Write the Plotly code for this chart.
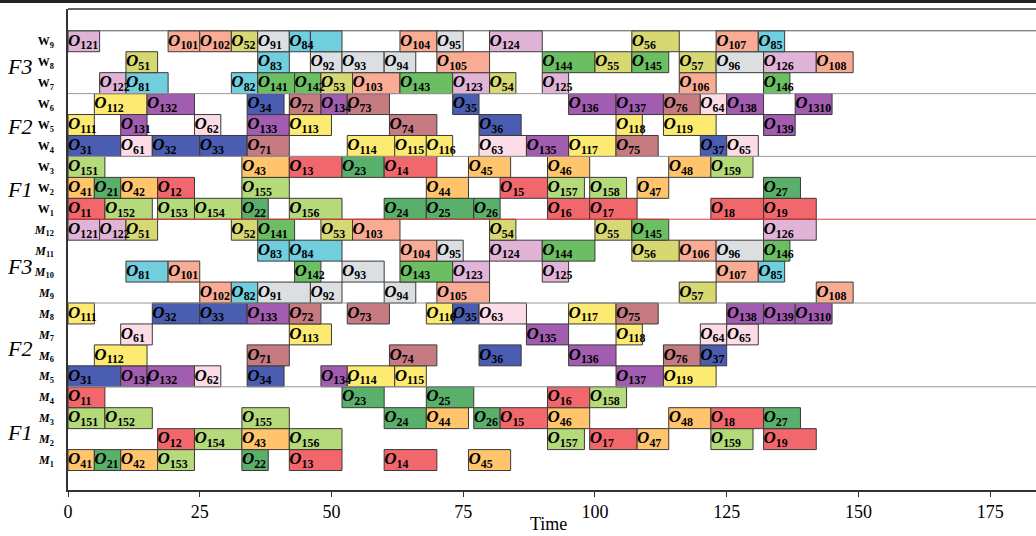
import plotly.graph_objects as go

# ---- data: (operation, start, end) per resource ----
W9 = [("121", 0, 6), ("101", 19, 25), ("102", 25, 31), ("52", 31, 36), ("91", 36, 42), ("84", 42, 46), ("84*", 46, 52),
      ("104", 63, 70), ("95", 70, 75), ("124", 80, 90), ("56", 107, 116), ("107", 123, 131), ("85", 131, 136)]
W8 = [("51", 11, 17), ("83", 36, 42), ("92", 46, 52), ("93", 52, 60), ("94", 60, 66), ("105", 70, 80), ("144", 90, 100),
      ("55", 100, 107), ("145", 107, 114), ("57", 116, 123), ("96", 123, 132), ("126", 132, 142), ("108", 142, 149)]
W7 = [("122", 6, 11), ("81", 11, 19), ("82", 31, 36), ("141", 36, 43), ("142", 43, 48), ("53", 48, 54), ("103", 54, 63),
      ("143", 63, 73), ("123", 73, 80), ("54", 80, 85), ("125", 90, 95), ("106", 116, 123), ("146", 132, 137)]
W6 = [("112", 5, 15), ("132", 15, 24), ("34", 34, 41), ("72", 42, 48), ("134", 48, 53), ("73", 53, 61), ("35", 73, 78),
      ("136", 95, 104), ("137", 104, 113), ("76", 113, 120), ("64", 120, 125), ("138", 125, 132), ("1310", 138, 145)]
W5 = [("111", 0, 5), ("131", 10, 15), ("62", 24, 29), ("133", 34, 42), ("113", 42, 50), ("74", 61, 70), ("36", 78, 86),
      ("118", 104, 109), ("119", 113, 123), ("139", 132, 138)]
W4 = [("31", 0, 10), ("61", 10, 16), ("32", 16, 25), ("33", 25, 34), ("71", 34, 42), ("114", 53, 62), ("115", 62, 68),
      ("116", 68, 73), ("63", 78, 87), ("135", 87, 95), ("117", 95, 104), ("75", 104, 112), ("37", 120, 125), ("65", 125, 131)]
W3 = [("151", 0, 7), ("43", 33, 42), ("13", 42, 52), ("23", 52, 60), ("14", 60, 70), ("45", 76, 84), ("46", 91, 99),
      ("48", 114, 122), ("159", 122, 130)]
W2 = [("41", 0, 5), ("21", 5, 10), ("42", 10, 17), ("12", 17, 24), ("155", 33, 42), ("44", 68, 76), ("15", 82, 91),
      ("157", 91, 98), ("158", 99, 106), ("47", 108, 114), ("27", 132, 139)]
W1 = [("11", 0, 7), ("152", 7, 16), ("153", 17, 24), ("154", 24, 33), ("22", 33, 38), ("156", 42, 52), ("24", 60, 68),
      ("25", 68, 77), ("26", 77, 82), ("16", 91, 99), ("17", 99, 108), ("18", 122, 132), ("19", 132, 142)]
M12 = [("121", 0, 6), ("122", 6, 11), ("51", 11, 17), ("52", 31, 36), ("141", 36, 43), ("53", 48, 54), ("103", 54, 63),
       ("54", 80, 85), ("55", 100, 107), ("145", 107, 114), ("126", 132, 142)]
M11 = [("83", 36, 42), ("84", 42, 52), ("104", 63, 70), ("95", 70, 75), ("124", 80, 90), ("144", 90, 100), ("56", 107, 116),
       ("106", 116, 123), ("96", 123, 132), ("146", 132, 137)]
M10 = [("81", 11, 19), ("101", 19, 25), ("142", 43, 48), ("93", 52, 60), ("143", 63, 73), ("123", 73, 80), ("125", 90, 95),
       ("107", 123, 131), ("85", 131, 136)]
M9 = [("102", 25, 31), ("82", 31, 36), ("91", 36, 46), ("92", 46, 52), ("94", 60, 66), ("105", 70, 80), ("57", 116, 123),
      ("108", 142, 149)]
M8 = [("111", 0, 5), ("32", 16, 25), ("33", 25, 34), ("133", 34, 42), ("72", 42, 48), ("73", 53, 61), ("116", 68, 73),
      ("35", 73, 78), ("63", 78, 87), ("117", 95, 104), ("75", 104, 112), ("138", 125, 132), ("139", 132, 138), ("1310", 138, 145)]
M7 = [("61", 10, 16), ("113", 42, 50), ("135", 87, 95), ("118", 104, 109), ("64", 120, 125), ("65", 125, 131)]
M6 = [("112", 5, 15), ("71", 34, 42), ("74", 61, 70), ("36", 78, 86), ("136", 95, 104), ("76", 113, 120), ("37", 120, 125)]
M5 = [("31", 0, 10), ("131", 10, 15), ("132", 15, 24), ("62", 24, 29), ("34", 34, 41), ("134", 48, 53), ("114", 53, 62),
      ("115", 62, 68), ("137", 104, 113), ("119", 113, 123)]
M4 = [("11", 0, 7), ("23", 52, 60), ("25", 68, 77), ("16", 91, 99), ("158", 99, 106)]
M3 = [("151", 0, 7), ("152", 7, 16), ("155", 33, 42), ("24", 60, 68), ("44", 68, 76), ("26", 77, 82), ("15", 82, 91),
      ("46", 91, 99), ("48", 114, 122), ("18", 122, 132), ("27", 132, 139)]
M2 = [("12", 17, 24), ("154", 24, 33), ("43", 33, 42), ("156", 42, 52), ("157", 91, 98), ("17", 99, 108), ("47", 108, 114),
      ("159", 122, 130), ("19", 132, 142)]
M1 = [("41", 0, 5), ("21", 5, 10), ("42", 10, 17), ("153", 17, 24), ("22", 33, 38), ("13", 42, 52), ("14", 60, 70),
      ("45", 76, 84)]

# bottom -> top
row_names = ["M1", "M2", "M3", "M4", "M5", "M6", "M7", "M8", "M9", "M10", "M11", "M12",
             "W1", "W2", "W3", "W4", "W5", "W6", "W7", "W8", "W9"]
row_data = [M1, M2, M3, M4, M5, M6, M7, M8, M9, M10, M11, M12, W1, W2, W3, W4, W5, W6, W7, W8, W9]

job_colors = {
    "1": "#F1676B", "2": "#59B06A", "3": "#4B5DB0", "4": "#FFC46C", "5": "#D7D872",
    "6": "#FCDCE7", "7": "#C57B80", "8": "#70CEDD", "9": "#DCDFE2", "10": "#F9AC93",
    "11": "#FCEB70", "12": "#E1B4D7", "13": "#A25CB0", "14": "#6BBE62", "15": "#B4DA7A",
}

group_labels = ["F3", "F2", "F1", "F3", "F2", "F1"]
group_pos = [18.8, 15.95, 12.9, 9.25, 5.35, 1.3]
sep_pos = [20.5, 17.5, 14.5, 7.5, 3.5]
red_sep = 11.5
x_ticks = [0, 25, 50, 75, 100, 125, 150, 175]


def job_of(op):
    return op[0] if len(op) == 2 else op[:2]


ys, starts, durs, cols, lab_x, lab_y, lab_t = [], [], [], [], [], [], []
for i, ops in enumerate(row_data):
    for op, s, e in ops:
        code = op.rstrip("*")
        ys.append(i)
        starts.append(s)
        durs.append(e - s)
        cols.append(job_colors[job_of(code)])
        if not op.endswith("*"):
            lab_x.append(s)
            lab_y.append(i)
            lab_t.append("<b><i>O</i><sub>%s</sub></b>" % code)

fig = go.Figure()
fig.add_trace(go.Bar(orientation="h", y=ys, x=durs, base=starts, width=1.0,
                     marker=dict(color=cols, line=dict(color="#3a3a3a", width=1)),
                     hoverinfo="skip", showlegend=False))
fig.add_trace(go.Scatter(x=lab_x, y=lab_y, text=lab_t, mode="text", textposition="middle right",
                         textfont=dict(family="Liberation Serif", size=17, color="black"),
                         hoverinfo="skip", showlegend=False))


def row_tick(name):
    letter, num = name[0], name[1:]
    if letter == "W":
        return "<b>W</b><sub><b>%s</b></sub>" % num
    return "<b><i>M</i></b><sub><b>%s</b></sub>" % num


shapes = []
for p in sep_pos:
    shapes.append(dict(type="line", xref="paper", x0=0, x1=1, yref="y", y0=p, y1=p,
                       line=dict(color="#555" if p > 20 else "#999", width=1), layer="above"))
shapes.append(dict(type="line", xref="paper", x0=0, x1=1, yref="y", y0=red_sep, y1=red_sep,
                   line=dict(color="#E8383C", width=1), layer="above"))
shapes.append(dict(type="line", xref="paper", x0=0, x1=1, yref="paper", y0=1, y1=1,
                   line=dict(color="#333", width=1.5), layer="above"))
shapes.append(dict(type="rect", xref="paper", x0=-0.08, x1=1.0, yref="paper", y0=1.0125, y1=1.03,
                   line=dict(width=0), fillcolor="#222"))

annotations = []
for g, p in zip(group_labels, group_pos):
    annotations.append(dict(text="<i>%s</i>" % g, xref="paper", x=-0.0506, xanchor="center",
                            yref="y", y=p, yanchor="middle", showarrow=False,
                            font=dict(family="Liberation Serif", size=22, color="black")))
annotations.append(dict(text="Time", xref="paper", x=(548 - 68) / 968, xanchor="center",
                        yref="paper", y=(490 - 536) / 481, yanchor="bottom", showarrow=False,
                        font=dict(family="Liberation Serif", size=18, color="black")))

fig.update_layout(
    width=1036, height=536,
    margin=dict(l=68, r=0, t=9, b=46),
    paper_bgcolor="white", plot_bgcolor="white",
    barmode="overlay",
    shapes=shapes, annotations=annotations,
    font=dict(family="Liberation Serif", color="black"),
    xaxis=dict(range=[0, 183.7], tickvals=x_ticks, ticks="outside", ticklen=5, tickcolor="#333",
               showline=True, linecolor="#333", linewidth=1.5, showgrid=False, zeroline=False,
               automargin=False,
               tickfont=dict(family="Liberation Serif", size=18, color="black")),
    yaxis=dict(range=[-1.43, 21.54], tickvals=list(range(len(row_names))),
               ticktext=[row_tick(n) for n in row_names], ticks="", ticklabelstandoff=10,
               showline=True, linecolor="#333", linewidth=1.5, showgrid=False, zeroline=False,
               automargin=False,
               tickfont=dict(family="Liberation Serif", size=12, color="black")),
)

fig.write_html("out.html", config={"displayModeBar": False},
               post_script="document.body.style.margin='0';document.body.style.overflow='hidden';")
